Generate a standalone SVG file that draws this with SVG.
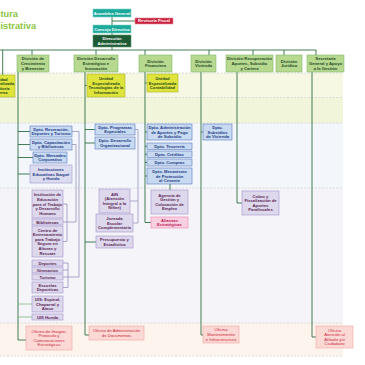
<svg xmlns="http://www.w3.org/2000/svg" width="365" height="365" viewBox="0 0 365 365">
<style>
text{font-family:"Liberation Sans",Arial,sans-serif;font-size:4.2px;font-weight:bold;text-anchor:middle}
.title{font-size:9.3px;fill:#8dc63f;text-anchor:start}
.teal rect{fill:#1aa99a;stroke:#7fd3c8;stroke-width:0.6}
.teal text,.dg text,.rf text{fill:#fff}
.rf rect{fill:#c8203c;stroke:#e88a96;stroke-width:0.6}
.dg rect{fill:#1e5a33;stroke:#5f9a70;stroke-width:0.6}
.gr rect{fill:#b6d88f;stroke:#82b96c;stroke-width:0.6}
.gr text{fill:#1f4a26}
.ye rect{fill:#dfe43c;stroke:#a9b42a;stroke-width:0.6}
.ye text{fill:#2a4a18}
.bl rect{fill:#c8daf1;stroke:#5d7cc0;stroke-width:0.6}
.bl text{fill:#1f3a86}
.lb rect{fill:#dcdcf0;stroke:#9b96cc;stroke-width:0.6}
.lb text{fill:#1f3a86}
.lv rect{fill:#ddd8ec;stroke:#a693cf;stroke-width:0.6}
.lv text{fill:#5c2757}
.pk rect{fill:#f9d0e0;stroke:#ec86b0;stroke-width:0.6}
.pk text{fill:#c0195a}
.rd rect{fill:#fdd9d5;stroke:#f2a6a2;stroke-width:0.6}
.rd text{fill:#c8283c;font-weight:normal}
.band line{stroke:#cfcfcf;stroke-width:0.7;stroke-dasharray:2 1.5}
#connectors path{fill:none;stroke:#2f6f43;stroke-width:0.9}
#connectors path.lav{stroke:#8b84b6;stroke-width:0.7}
#connectors path.lg{stroke:#8cc08c}
</style>

<g id="bands" class="band">
<rect x="0" y="73" width="343" height="24.5" fill="#f6f8e3"/>
<rect x="0" y="97.5" width="343" height="25.5" fill="#f1f5da"/>
<rect x="0" y="123" width="343" height="65" fill="#f3f6fb"/>
<rect x="0" y="188" width="343" height="135" fill="#f4f4f9"/>
<rect x="0" y="323" width="343" height="33" fill="#fdf4ed"/>
<line x1="0" y1="73" x2="343" y2="73"/>
<line x1="0" y1="97.5" x2="343" y2="97.5"/>
<line x1="0" y1="123" x2="343" y2="123"/>
<line x1="0" y1="188" x2="343" y2="188"/>
<line x1="0" y1="323" x2="343" y2="323"/>
<line x1="0" y1="356" x2="343" y2="356"/>
</g>

<g id="title">
<text class="title" x="-28.5" y="17">Estructura</text>
<text class="title" x="-28.5" y="29">Administrativa</text>
</g>

<g id="connectors">
<path d="M112 17V25M112 21H135M112 33V35M112 47V50"/>
<path d="M0 50H316M2.7 50V75M32 50V55M96 50V55M145 50V55M209 50V55M253 50V55M284 50V55M316 50V55"/>
<path d="M18 72V340H26M18 131.5H30M18 144.5H30M18 157.5H33M18 174H30"/>
<path class="lg" d="M18 304H32M18 317H32"/>
<path d="M85 72V335H89M85 85.5H87M85 129.5H95M85 143H95M85 242H96"/>
<path d="M145 72V222.5H151M145 83H147M145 132H147M145 146.25H147M145 154.25H147M145 162.5H147M145 176H147M170 184V190"/>
<path d="M201 72V335H203M201 132H203"/>
<path d="M237 72V203H242"/>
<path d="M312 72V337H316"/>
<path class="lav" d="M72 131.5H79V277H68M68 263V287.5M63 263H68M63 270H68M63 277H68M63 287.5H68"/>
<path class="lav" d="M72 144.5H76V222H63M67 204V241.5M63 204H67M63 241.5H67"/>
<path class="lav" d="M135 129.5H138V223H133M130 201H138"/>
</g>

<g id="asamblea" class="teal"><rect x="93" y="9" width="38" height="8"/><text x="112" y="14.5">Asamblea General</text></g>
<g id="revisoria" class="rf"><rect x="135" y="18" width="38" height="6"/><text x="154" y="22.4">Revisoría Fiscal</text></g>
<g id="consejo" class="teal"><rect x="93" y="25" width="38" height="8"/><text x="112" y="30.5">Consejo Directivo</text></g>
<g id="direccion" class="dg"><rect x="93" y="35" width="38" height="12"/><text x="112" y="40.2">Dirección<tspan x="112" dy="4.6">Administrativa</tspan></text></g>

<g id="div-crecimiento" class="gr"><rect x="17" y="55" width="32" height="17"/><text x="33" y="60.4">División de<tspan x="33" dy="4.6">Crecimiento</tspan><tspan x="33" dy="4.6">y Bienestar</tspan></text></g>
<g id="div-desarrollo" class="gr"><rect x="74" y="55" width="44" height="17"/><text x="96" y="60.4">División Desarrollo<tspan x="96" dy="4.6">Estratégico e</tspan><tspan x="96" dy="4.6">Innovación</tspan></text></g>
<g id="div-financiera" class="gr"><rect x="139" y="55" width="33" height="17"/><text x="155.5" y="62.7">División<tspan x="155.5" dy="4.6">Financiera</tspan></text></g>
<g id="div-vivienda" class="gr"><rect x="191" y="55" width="25" height="17"/><text x="203.5" y="62.7">División<tspan x="203.5" dy="4.6">Vivienda</tspan></text></g>
<g id="div-recuperacion" class="gr"><rect x="226" y="55" width="47" height="17"/><text x="249.5" y="60.4">División Recuperación<tspan x="249.5" dy="4.6">Aportes, Subsidio</tspan><tspan x="249.5" dy="4.6">y Cartera</tspan></text></g>
<g id="div-juridica" class="gr"><rect x="276" y="55" width="26" height="17"/><text x="289" y="62.7">División<tspan x="289" dy="4.6">Jurídica</tspan></text></g>
<g id="secretaria" class="gr"><rect x="307" y="55" width="37" height="17"/><text x="325.5" y="60.4">Secretaría<tspan x="325.5" dy="4.6">General y Apoyo</tspan><tspan x="325.5" dy="4.6">a la Gestión</tspan></text></g>

<g id="ue-auditoria" class="ye"><rect x="-14" y="75" width="29" height="22"/><text x="0.5" y="80.6">Unidad<tspan x="0.5" dy="4.6">Especializada</tspan><tspan x="0.5" dy="4.6">Auditoría</tspan><tspan x="0.5" dy="4.6">Interna</tspan></text></g>
<g id="ue-ti" class="ye"><rect x="87" y="74" width="38" height="23"/><text x="106" y="80.1">Unidad<tspan x="106" dy="4.6">Especializada</tspan><tspan x="106" dy="4.6">Tecnologías de la</tspan><tspan x="106" dy="4.6">Información</tspan></text></g>
<g id="ue-contabilidad" class="ye"><rect x="147" y="74" width="31" height="18"/><text x="162.5" y="79.9">Unidad<tspan x="162.5" dy="4.6">Especializada</tspan><tspan x="162.5" dy="4.6">Contabilidad</tspan></text></g>

<g id="dpto-recreacion" class="bl"><rect x="30" y="126" width="42" height="11"/><text x="51" y="130.7">Dpto. Recreación,<tspan x="51" dy="4.6">Deportes y Turismo</tspan></text></g>
<g id="dpto-capacitacion" class="bl"><rect x="30" y="139" width="42" height="11"/><text x="51" y="143.7">Dpto. Capacitación<tspan x="51" dy="4.6">y Bibliotecas</tspan></text></g>
<g id="dpto-mercadeo" class="bl"><rect x="33" y="152" width="34" height="11"/><text x="50" y="156.7">Dpto. Mercadeo<tspan x="50" dy="4.6">Corporativo</tspan></text></g>
<g id="instituciones" class="lb"><rect x="30" y="165" width="42" height="18"/><text x="51" y="170.9">Instituciones<tspan x="51" dy="4.6">Educativas Ibagué</tspan><tspan x="51" dy="4.6">y Honda</tspan></text></g>

<g id="dpto-programas" class="bl"><rect x="95" y="124" width="40" height="11"/><text x="115" y="128.7">Dpto. Programas<tspan x="115" dy="4.6">Especiales</tspan></text></g>
<g id="dpto-desarrollo" class="bl"><rect x="95" y="137" width="40" height="12"/><text x="115" y="142.2">Dpto. Desarrollo<tspan x="115" dy="4.6">Organizacional</tspan></text></g>

<g id="dpto-aportes" class="bl"><rect x="147" y="124" width="45" height="16"/><text x="169.5" y="128.9">Dpto. Administración<tspan x="169.5" dy="4.6">de Aportes y Pago</tspan><tspan x="169.5" dy="4.6">de Subsidio</tspan></text></g>
<g id="dpto-tesoreria" class="bl"><rect x="147" y="143" width="45" height="6.5"/><text x="169.5" y="147.7">Dpto. Tesorería</text></g>
<g id="dpto-creditos" class="bl"><rect x="147" y="151" width="45" height="6.5"/><text x="169.5" y="155.7">Dpto. Créditos</text></g>
<g id="dpto-compras" class="bl"><rect x="147" y="159" width="45" height="7"/><text x="169.5" y="164">Dpto. Compras</text></g>
<g id="dpto-mecanismo" class="bl"><rect x="147" y="168" width="45" height="16"/><text x="169.5" y="172.9">Dpto. Mecanismo<tspan x="169.5" dy="4.6">de Protección</tspan><tspan x="169.5" dy="4.6">al Cesante</tspan></text></g>
<g id="dpto-subsidios" class="bl"><rect x="203" y="124" width="29" height="16"/><text x="217.5" y="128.9">Dpto.<tspan x="217.5" dy="4.6">Subsidios</tspan><tspan x="217.5" dy="4.6">de Vivienda</tspan></text></g>

<g id="institucion-edu" class="lv"><rect x="32" y="190" width="31" height="28"/><text x="47.5" y="196.3">Institución de<tspan x="47.5" dy="4.6">Educación</tspan><tspan x="47.5" dy="4.6">para el Trabajo</tspan><tspan x="47.5" dy="4.6">y Desarrollo</tspan><tspan x="47.5" dy="4.6">Humano</tspan></text></g>
<g id="bibliotecas" class="lv"><rect x="32" y="219" width="31" height="6"/><text x="47.5" y="223.5">Bibliotecas</text></g>
<g id="centro" class="lv"><rect x="32" y="226" width="31" height="31"/><text x="47.5" y="231.5">Centro de<tspan x="47.5" dy="4.6">Entrenamiento</tspan><tspan x="47.5" dy="4.6">para Trabajo</tspan><tspan x="47.5" dy="4.6">Seguro en</tspan><tspan x="47.5" dy="4.6">Alturas y</tspan><tspan x="47.5" dy="4.6">Rescate</tspan></text></g>
<g id="deportes" class="lv"><rect x="32" y="260" width="31" height="6"/><text x="47.5" y="264.5">Deportes</text></g>
<g id="gimnasios" class="lv"><rect x="32" y="267" width="31" height="6"/><text x="47.5" y="271.5">Gimnasios</text></g>
<g id="turismo" class="lv"><rect x="32" y="274" width="31" height="6"/><text x="47.5" y="278.5">Turismo</text></g>
<g id="escuelas" class="lv"><rect x="32" y="282" width="31" height="11"/><text x="47.5" y="286.7">Escuelas<tspan x="47.5" dy="4.6">Deportivas</tspan></text></g>
<g id="uis-espinal" class="lv"><rect x="32" y="296" width="31" height="16"/><text x="47.5" y="300.9">UIS: Espinal,<tspan x="47.5" dy="4.6">Chaparral y</tspan><tspan x="47.5" dy="4.6">Ataco</tspan></text></g>
<g id="uis-honda" class="lv"><rect x="32" y="314" width="31" height="6"/><text x="47.5" y="318.5">UIS Honda</text></g>

<g id="ain" class="lv"><rect x="99" y="189" width="31" height="24"/><text x="114.5" y="195.6">AIN<tspan x="114.5" dy="4.6">(Atención</tspan><tspan x="114.5" dy="4.6">Integral a la</tspan><tspan x="114.5" dy="4.6">Niñez)</tspan></text></g>
<g id="jornada" class="lv"><rect x="96" y="214" width="37" height="18"/><text x="114.5" y="219.9">Jornada<tspan x="114.5" dy="4.6">Escolar</tspan><tspan x="114.5" dy="4.6">Complementaria</tspan></text></g>
<g id="presupuesto" class="lv"><rect x="96" y="236" width="37" height="12"/><text x="114.5" y="241.2">Presupuesto y<tspan x="114.5" dy="4.6">Estadística</tspan></text></g>
<g id="agencia" class="lv"><rect x="151" y="190" width="37" height="24"/><text x="169.5" y="196.6">Agencia de<tspan x="169.5" dy="4.6">Gestión y</tspan><tspan x="169.5" dy="4.6">Colocación de</tspan><tspan x="169.5" dy="4.6">Empleo</tspan></text></g>
<g id="alianzas" class="pk"><rect x="151" y="217" width="37" height="11"/><text x="169.5" y="221.7">Alianzas<tspan x="169.5" dy="4.6">Estratégicas</tspan></text></g>
<g id="cobro" class="lv"><rect x="242" y="191" width="37" height="24"/><text x="260.5" y="197.6">Cobro y<tspan x="260.5" dy="4.6">Fiscalización de</tspan><tspan x="260.5" dy="4.6">Aportes</tspan><tspan x="260.5" dy="4.6">Parafiscales</tspan></text></g>

<g id="of-imagen" class="rd"><rect x="26" y="326" width="46" height="24"/><text x="49" y="332.6">Oficina de Imagen,<tspan x="49" dy="4.6">Protocolo y</tspan><tspan x="49" dy="4.6">Comunicaciones</tspan><tspan x="49" dy="4.6">Estratégicas</tspan></text></g>
<g id="of-documentos" class="rd"><rect x="89" y="326" width="55" height="14"/><text x="116.5" y="332.2">Oficina de Administración<tspan x="116.5" dy="4.6">de Documentos</tspan></text></g>
<g id="of-mantenimiento" class="rd"><rect x="203" y="326" width="36" height="17"/><text x="221" y="331.4">Oficina<tspan x="221" dy="4.6">Mantenimiento</tspan><tspan x="221" dy="4.6">e Infraestructura</tspan></text></g>
<g id="of-atencion" class="rd"><rect x="316" y="326" width="37" height="22"/><text x="334.5" y="331.6">Oficina<tspan x="334.5" dy="4.6">Atención al</tspan><tspan x="334.5" dy="4.6">Afiliado y/o</tspan><tspan x="334.5" dy="4.6">Ciudadano</tspan></text></g>
</svg>
